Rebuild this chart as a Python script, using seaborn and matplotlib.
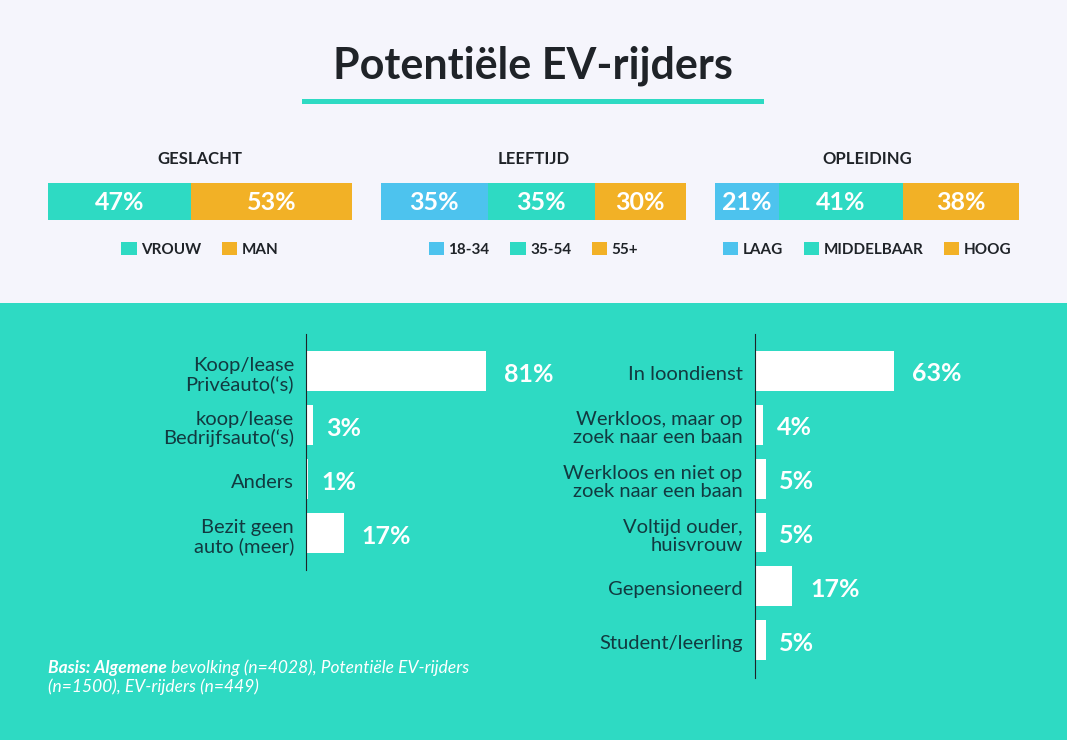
import matplotlib
matplotlib.use("Agg")
import matplotlib.pyplot as plt
from matplotlib.patches import Patch, Rectangle
from matplotlib.transforms import ScaledTranslation
import pandas as pd
import seaborn as sns

W, H = 1067, 740

# Colours
bg = "#F5F5FC"
teal = "#2EDAC3"
orange = "#F2B126"
blue = "#4DC3EE"
dark = "#1F2328"
label_dark = "#123A40"

# Data
title = "Potentiële EV-rijders"

gender_names = ["VROUW", "MAN"]
gender_values = [47, 53]
age_names = ["18-34", "35-54", "55+"]
age_values = [35, 35, 30]
edu_names = ["LAAG", "MIDDELBAAR", "HOOG"]
edu_values = [21, 41, 38]

car_labels = ["Koop/lease\nPrivéauto(‘s)", "koop/lease\nBedrijfsauto(‘s)", "Anders", "Bezit geen\nauto (meer)"]
car_values = [81, 3, 1, 17]
work_labels = ["In loondienst", "Werkloos, maar op\nzoek naar een baan", "Werkloos en niet op\nzoek naar een baan",
               "Voltijd ouder,\nhuisvrouw", "Gepensioneerd", "Student/leerling"]
work_values = [63, 4, 5, 5, 17, 5]

sns.set_theme(style="white")
plt.rcParams["font.family"] = "Lato"


def px_axes(x0, y0, x1, y1):
    # axes from pixel box, y counted from the top
    ax = fig.add_axes([x0 / W, 1 - y1 / H, (x1 - x0) / W, (y1 - y0) / H])
    ax.patch.set_alpha(0)
    return ax


def nudge(labels, dy):
    # bar_label has no vertical offset, so move the text afterwards
    for t in labels:
        t.xyann = (t.xyann[0], dy)


def stacked(box, head, names, values, colors, legend_gap):
    ax = px_axes(*box)
    left = 0
    for name, val, col in zip(names, values, colors):
        sns.barplot(x=[val], y=["a"], left=left, color=col, saturation=1, width=1, linewidth=0, ax=ax)
        lab = ax.bar_label(ax.containers[-1], labels=[f"{val}%"], label_type="center",
                           color="white", fontsize=18, fontweight="bold")
        nudge(lab, -0.8)
        left += val
    ax.set_xlim(0, 100)
    ax.set_ylim(0.5, -0.5)
    ax.axis("off")
    ax.text(0.5, 1.64, head, transform=ax.transAxes, ha="center", va="center",
            fontsize=12, fontweight="bold", color=dark)
    handles = [Patch(color=c, label=n, lw=0) for n, c in zip(names, colors)]
    ax.legend(handles=handles, loc="center", bbox_to_anchor=(0.5, -0.79), ncol=len(names), frameon=False,
              handlelength=1.0, handleheight=1.0, handletextpad=0.3, columnspacing=legend_gap,
              labelcolor=dark, prop={"size": 11, "weight": "bold"}, borderpad=0, borderaxespad=0)


def hbars(box, ylim, labels, values):
    ax = px_axes(*box)
    df = pd.DataFrame({"label": labels, "value": values})
    sns.barplot(data=df, x="value", y="label", color="white", saturation=1, width=0.74, linewidth=0, ax=ax)
    bars = ax.containers[0]
    one = [f"{v}%" if v < 10 else "" for v in values]
    two = [f"{v}%" if v >= 10 else "" for v in values]
    nudge(ax.bar_label(bars, labels=one, padding=9.5, color="white", fontsize=18, fontweight="bold"), -2.2)
    nudge(ax.bar_label(bars, labels=two, padding=13, color="white", fontsize=18, fontweight="bold"), -2.2)
    ax.set_xlim(0, 100)
    ax.set_ylim(*ylim)
    ax.set_xlabel("")
    ax.set_ylabel("")
    ax.set_xticks([])
    sns.despine(ax=ax, left=False, top=True, right=True, bottom=True)
    ax.spines["left"].set_color(dark)
    ax.spines["left"].set_linewidth(0.8)
    ax.tick_params(axis="y", length=0, pad=8.6, labelsize=14.5, labelcolor=label_dark)
    shift = ScaledTranslation(0, -2 / 100, fig.dpi_scale_trans)
    for t in ax.get_yticklabels():
        t.set_linespacing(1.08)
        t.set_multialignment("right")
        t.set_transform(t.get_transform() + shift)
    return ax


fig = plt.figure(figsize=(W / 100, H / 100), dpi=100, facecolor=bg)

# teal lower panel and title rule
fig.add_artist(Rectangle((0, 0), 1, 1 - 303 / H, transform=fig.transFigure, color=teal, lw=0, zorder=-1))
fig.add_artist(Rectangle((302 / W, 1 - 104 / H), 462 / W, 5 / H, transform=fig.transFigure, color=teal, lw=0, zorder=-1))
fig.text(533 / W, 1 - 66 / H, title, ha="center", va="center", fontsize=31, fontweight="bold", color=dark)

stacked((48, 183, 352, 220), "GESLACHT", gender_names, gender_values, [teal, orange], 1.35)
stacked((381, 183, 686, 220), "LEEFTIJD", age_names, age_values, [blue, teal, orange], 1.35)
stacked((715, 183, 1019, 220), "OPLEIDING", edu_names, edu_values, [blue, teal, orange], 1.35)

hbars((306, 334, 528, 570), (3.685, -0.685), car_labels, car_values)
hbars((754.5, 334, 976.5, 678), (5.7, -0.685), work_labels, work_values)

# footnote, bold start then italic
first = fig.text(48 / W, 1 - 673 / H, "Basis: Algemene", fontsize=12.5, fontweight="bold", fontstyle="italic", color="white")
fig.axes[-1].annotate(" bevolking (n=4028), Potentiële EV-rijders", xy=(1, 0), xycoords=first, va="bottom",
                      fontsize=12.5, fontstyle="italic", color="white", annotation_clip=False)
fig.text(48 / W, 1 - 692 / H, "(n=1500), EV-rijders (n=449)", fontsize=12.5, fontstyle="italic", color="white")

fig.savefig("out.png", dpi=100, facecolor=bg)
